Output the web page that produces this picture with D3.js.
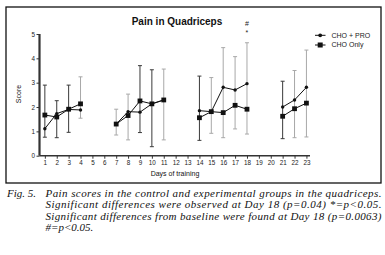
<!DOCTYPE html>
<html><head><meta charset="utf-8">
<script src="https://cdn.jsdelivr.net/npm/d3@7"></script>
<style>
html,body{margin:0;padding:0;background:#fff;}
svg{display:block;}
</style></head>
<body>
<svg id="c" width="385" height="255"></svg>
<script>
// ---- data ----
const days = [1,2,3,4,7,8,9,10,11,14,15,16,17,18,21,22,23];
const blocks = [[1,4],[7,11],[14,18],[21,23]];
const choPro  = [1.11,1.73,1.90,1.88,1.30,1.81,1.79,2.13,2.29,1.85,1.81,2.81,2.70,2.96,2.00,2.29,2.81];
const choOnly = [1.67,1.59,1.91,2.13,1.30,1.65,2.25,2.13,2.29,1.56,1.81,1.77,2.07,1.91,1.62,1.93,2.16];
const errTop  = [2.90,2.26,2.90,3.24,1.91,2.53,3.70,3.53,3.56,3.27,3.21,4.44,4.07,4.64,3.06,3.50,4.34];
const errBot  = [0.76,0.74,0.96,1.54,0.85,0.65,0.95,0.37,0.65,0.63,0.92,0.74,1.10,0.89,0.70,0.74,0.77];
const errOwner= ["only","only","only","pro","pro","pro","only","only","pro","only","pro","pro","pro","pro","only","pro","pro"];
const yTicks = [0,1,2,3,4,5];
const xTicks = d3.range(1,24);
const seriesNames = ["CHO + PRO","CHO Only"];
const title = "Pain in Quadriceps";
const xLabel = "Days of training";
const yLabel = "Score";
const marks = ["#","*"];
const markDay = 18;
const captionLead = "Fig. 5.";
const captionLines = [
  "Pain scores in the control and experimental groups in the quadriceps.",
  "Significant differences were observed at Day 18 (p=0.04) *=p<0.05.",
  "Significant differences from baseline were found at Day 18 (p=0.0063)",
  "#=p<0.05."
];

// ---- drawing ----
const svg = d3.select("#c");
const sans = "'Liberation Sans', Arial, sans-serif";
const serif = "'Liberation Serif', 'Times New Roman', serif";

svg.append("rect").attr("x",6).attr("y",7).attr("width",375).attr("height",176)
  .attr("fill","none").attr("stroke","#111").attr("stroke-width",1.3);

const x = d3.scaleLinear().domain([0.55,23.3]).range([39.5,310]);
const y = d3.scaleLinear().domain([0,5]).range([155.7,34]);

// axes
const gx = svg.append("g").attr("transform",`translate(0,${y(0)})`)
  .call(d3.axisBottom(x).tickValues(xTicks).tickSize(3).tickPadding(2).tickFormat(d3.format("d")));
const gy = svg.append("g").attr("transform",`translate(${x.range()[0]},0)`)
  .call(d3.axisLeft(y).tickValues(yTicks).tickSize(3).tickPadding(1.5).tickFormat(d3.format("d")));
[gx,gy].forEach(g=>{
  g.select(".domain").attr("stroke","#333").attr("stroke-width",1.6);
  g.selectAll(".tick line").attr("stroke","#333").attr("stroke-width",1);
  g.selectAll(".tick text").attr("font-family",sans).attr("font-size",6.3).attr("fill","#222");
});
gx.select(".domain").attr("d",`M${x.range()[0]},0H${x.range()[1]}`);
gy.select(".domain").attr("d",`M0,${y(5)}V${y(0)}`).attr("stroke-width",2.2);

// error bars
const ebColor = {pro:"#a8a8a8", only:"#3a3a3a"};
const eb = svg.append("g");
days.forEach((d,i)=>{
  const c = ebColor[errOwner[i]];
  const g = eb.append("g").attr("stroke",c).attr("stroke-width",1);
  g.append("line").attr("x1",x(d)).attr("x2",x(d)).attr("y1",y(errTop[i])).attr("y2",y(errBot[i]));
  [errTop[i],errBot[i]].forEach(v=>g.append("line").attr("x1",x(d)-2).attr("x2",x(d)+2).attr("y1",y(v)).attr("y2",y(v)));
});

// lines
const line = d3.line().x(p=>x(p[0])).y(p=>y(p[1]));
function drawSeries(vals){
  blocks.forEach(([a,b])=>{
    const pts = days.map((d,i)=>[d,vals[i]]).filter(p=>p[0]>=a&&p[0]<=b);
    svg.append("path").attr("d",line(pts)).attr("fill","none").attr("stroke","#111").attr("stroke-width",1);
  });
}
drawSeries(choOnly);
drawSeries(choPro);
svg.append("g").selectAll("rect").data(days).join("rect")
  .attr("x",(d,i)=>x(d)-2.4).attr("y",(d,i)=>y(choOnly[i])-2.4)
  .attr("width",4.8).attr("height",4.8).attr("fill","#111");
svg.append("g").selectAll("circle").data(days).join("circle")
  .attr("cx",d=>x(d)).attr("cy",(d,i)=>y(choPro[i])).attr("r",1.7).attr("fill","#111");

// significance marks
svg.append("text").attr("x",x(markDay)).attr("y",26).attr("text-anchor","middle")
  .attr("font-family",sans).attr("font-size",7).attr("fill","#222").text(marks[0]);
svg.append("text").attr("x",x(markDay)).attr("y",35).attr("text-anchor","middle")
  .attr("font-family",sans).attr("font-size",7).attr("fill","#222").text(marks[1]);

// title and labels
svg.append("text").attr("x",177).attr("y",24.5).attr("text-anchor","middle")
  .attr("font-family",sans).attr("font-weight","bold").attr("font-size",10).attr("fill","#111").text(title);
svg.append("text").attr("x",175).attr("y",175.5).attr("text-anchor","middle")
  .attr("font-family",sans).attr("font-size",7).attr("fill","#111").text(xLabel);
svg.append("text").attr("transform","translate(21,94) rotate(-90)").attr("text-anchor","middle")
  .attr("font-family",sans).attr("font-size",7).attr("fill","#111").text(yLabel);

// legend
const lg = svg.append("g");
seriesNames.forEach((n,i)=>{
  const ly = 35.3 + i*9.7;
  lg.append("line").attr("x1",315).attr("x2",325.5).attr("y1",ly).attr("y2",ly).attr("stroke","#111").attr("stroke-width",1);
  if(i===0) lg.append("circle").attr("cx",320.2).attr("cy",ly).attr("r",1.9).attr("fill","#111");
  else lg.append("rect").attr("x",317.7).attr("y",ly-2.5).attr("width",5).attr("height",5).attr("fill","#111");
  lg.append("text").attr("x",331.5).attr("y",ly+2.4).attr("font-family",sans).attr("font-size",7).attr("fill","#222").text(n);
});

// caption
const cap = svg.append("g").attr("font-family",serif).attr("font-style","italic").attr("font-size",11).attr("fill","#111");
cap.append("text").attr("x",7).attr("y",196.9).text(captionLead);
captionLines.forEach((t,i)=>{
  const tx = cap.append("text").attr("x",45.5).attr("y",196.9+i*11.3).text(t);
  if(i<captionLines.length-1) tx.attr("textLength",336).attr("lengthAdjust","spacing");
});
</script>
</body></html>
